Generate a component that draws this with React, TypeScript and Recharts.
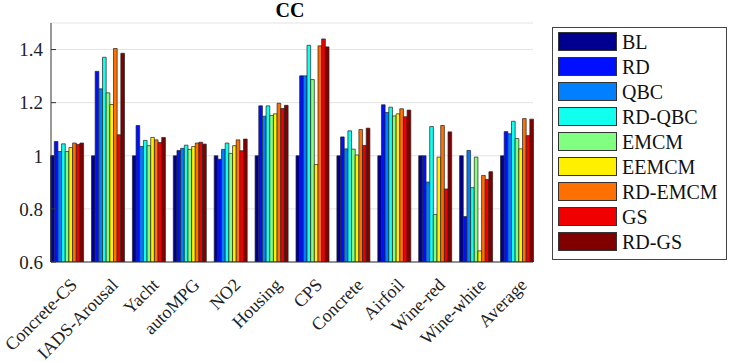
import React from 'react';
import { BarChart, Bar, XAxis, YAxis, CartesianGrid, Legend } from 'recharts';

const datasets = ['Concrete-CS', 'IADS-Arousal', 'Yacht', 'autoMPG', 'NO2', 'Housing', 'CPS', 'Concrete', 'Airfoil', 'Wine-red', 'Wine-white', 'Average'];

const bl = [1, 1, 1, 1, 1, 1, 1, 1, 1, 1, 1, 1];
const rd = [1.054, 1.318, 1.114, 1.02, 0.987, 1.188, 1.301, 1.071, 1.192, 1.0, 0.771, 1.091];
const qbc = [1.016, 1.252, 1.035, 1.028, 1.024, 1.149, 1.301, 1.026, 1.163, 0.901, 1.02, 1.083];
const rdQbc = [1.045, 1.371, 1.058, 1.04, 1.048, 1.188, 1.416, 1.094, 1.183, 1.11, 0.88, 1.13];
const emcm = [1.016, 1.237, 1.038, 1.024, 1.009, 1.152, 1.287, 1.025, 1.15, 0.779, 0.995, 1.065];
const eemcm = [1.031, 1.193, 1.069, 1.035, 1.038, 1.158, 0.967, 1.003, 1.158, 0.995, 0.642, 1.026];
const rdEmcm = [1.048, 1.404, 1.06, 1.048, 1.06, 1.198, 1.414, 1.099, 1.177, 1.114, 0.926, 1.14];
const gs = [1.043, 1.079, 1.05, 1.051, 1.019, 1.178, 1.44, 1.039, 1.147, 0.875, 0.911, 1.076];
const rdGs = [1.048, 1.386, 1.069, 1.044, 1.063, 1.19, 1.41, 1.104, 1.172, 1.09, 0.94, 1.138];

const yTicks = [0.6, 0.8, 1, 1.2, 1.4];

const series = [
  { key: 'BL', values: bl, color: '#000090' },
  { key: 'RD', values: rd, color: '#0010FF' },
  { key: 'QBC', values: qbc, color: '#0080FF' },
  { key: 'RD-QBC', values: rdQbc, color: '#10FFEF' },
  { key: 'EMCM', values: emcm, color: '#80FF80' },
  { key: 'EEMCM', values: eemcm, color: '#FFF000' },
  { key: 'RD-EMCM', values: rdEmcm, color: '#FF7000' },
  { key: 'GS', values: gs, color: '#F00000' },
  { key: 'RD-GS', values: rdGs, color: '#800000' },
];

const rows = datasets.map((name, i) => {
  const row: Record<string, string | number> = { name };
  series.forEach((s) => { row[s.key] = s.values[i]; });
  return row;
});

const font = 'Liberation Serif, Times New Roman, Times, serif';
const axisColor = '#333';

function XTick(props: any) {
  const { x, y, payload } = props;
  return (
    <g transform={`translate(${x + 11},${y + 16}) rotate(-45)`}>
      <text x={0} y={0} textAnchor="end" fill="#222" fontSize={18} fontFamily={font}>
        {payload.value}
      </text>
    </g>
  );
}

// legend keeps the series order (recharts would sort it by name)
function LegendBox() {
  return (
    <div style={{ width: 175, height: 233, border: '1px solid #444', boxSizing: 'border-box', background: '#fff', padding: '1px 0 0 5px' }}>
      {series.map((s) => (
        <div key={s.key} style={{ display: 'flex', alignItems: 'center', height: 25 }}>
          <span style={{ display: 'inline-block', width: 59, height: 19, background: s.color, border: '1px solid #333', boxSizing: 'border-box' }} />
          <span style={{ marginLeft: 5, fontFamily: font, fontSize: 20, color: '#111', lineHeight: '20px' }}>{s.key}</span>
        </div>
      ))}
    </div>
  );
}

export default function App() {
  return (
    <div style={{ position: 'absolute', left: 0, top: 0, width: 731, height: 362, background: '#fff' }}>
      <div style={{ position: 'absolute', left: 0, top: 0, width: 580, textAlign: 'center', fontFamily: font, fontWeight: 'bold', fontSize: 20, lineHeight: '20px' }}>
        CC
      </div>
      <BarChart
        width={731}
        height={362}
        data={rows}
        margin={{ top: 23, right: 198, bottom: 0, left: 0 }}
        barGap={0}
        barSize={33 / 9}
      >
        <CartesianGrid vertical={false} stroke="#e3e3e3" yAxisId="left" />
        <XAxis
          dataKey="name"
          xAxisId="bottom"
          orientation="bottom"
          height={100}
          interval={0}
          padding={{ left: -4.4, right: -4.4 }}
          axisLine={{ stroke: axisColor }}
          tickLine={false}
          tick={<XTick />}
        />
        <XAxis
          dataKey="name"
          xAxisId="top"
          orientation="top"
          height={0}
          interval={0}
          padding={{ left: -4.4, right: -4.4 }}
          axisLine={{ stroke: axisColor }}
          tickLine={{ stroke: axisColor }}
          tickSize={-5}
          tick={false}
        />
        <YAxis
          yAxisId="left"
          width={51}
          domain={[0.6, 1.5]}
          ticks={yTicks}
          allowDataOverflow
          axisLine={{ stroke: axisColor }}
          tickLine={{ stroke: axisColor }}
          tickSize={-5}
          tickMargin={13}
          tick={{ fill: '#222', fontSize: 19, fontFamily: font }}
          tickFormatter={(v: number) => String(v)}
        />
        <YAxis
          yAxisId="right"
          orientation="right"
          width={0}
          domain={[0.6, 1.5]}
          ticks={yTicks}
          allowDataOverflow
          axisLine={{ stroke: axisColor }}
          tickLine={{ stroke: axisColor }}
          tickSize={-5}
          tick={false}
        />
        <Legend
          layout="vertical"
          align="center"
          verticalAlign="middle"
          wrapperStyle={{ position: 'absolute', left: 552, top: 27, width: 175, height: 233 }}
          content={<LegendBox />}
        />
        {series.map((s) => (
          <Bar
            key={s.key}
            dataKey={s.key}
            name={s.key}
            xAxisId="bottom"
            yAxisId="left"
            fill={s.color}
            stroke="#222"
            strokeWidth={0.7}
            isAnimationActive={false}
          />
        ))}
      </BarChart>
    </div>
  );
}
